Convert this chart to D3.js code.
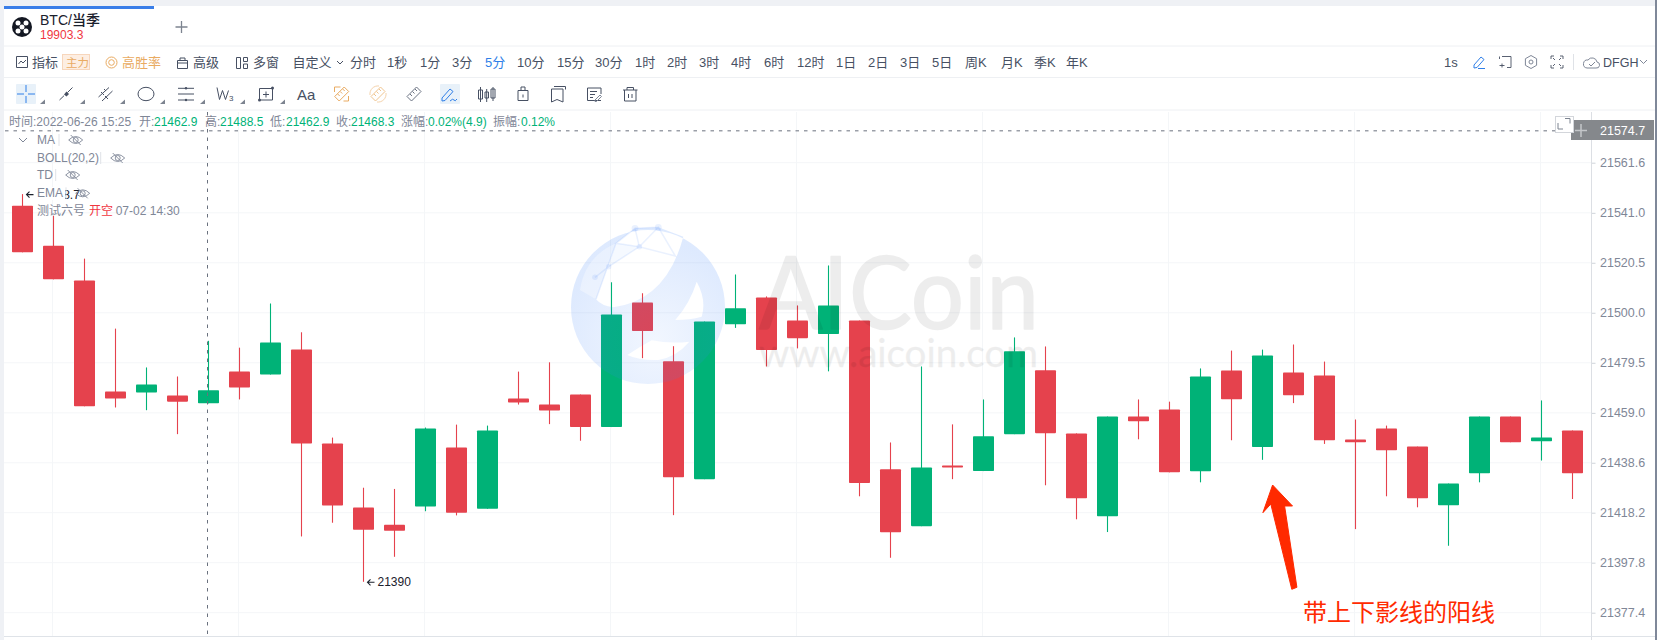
<!DOCTYPE html>
<html><head><meta charset="utf-8">
<script src="https://cdn.jsdelivr.net/npm/d3@7/dist/d3.min.js"></script>
<style>
html,body{margin:0;padding:0;background:#fff;overflow:hidden}
svg{display:block}
text{font-family:"Liberation Sans","Noto Sans CJK SC",sans-serif}
</style></head><body>
<div id="chart"></div>
<script>
const opens  = [21543.9,21527.5,21513.2,21467.7,21467.3,21466.1,21462.9,21475.9,21474.7,21484.9,21446.5,21420.3,21413.3,21420.7,21444.8,21419.8,21464.9,21462.4,21466.5,21453.2,21504.2,21480.1,21431.9,21495.3,21506.3,21496.8,21491.3,21496.8,21435.9,21412.7,21437.5,21435.2,21450.3,21476.4,21450.6,21416.7,21457.5,21460.4,21435.1,21476.3,21445.0,21475.5,21474.3,21448.1,21452.6,21445.2,21421.2,21434.3,21457.5,21447.4,21451.8];
const highs  = [21548.7,21539.8,21522.2,21493.5,21477.6,21473.9,21488.5,21485.7,21503.8,21492.0,21448.9,21428.4,21427.9,21453.0,21454.2,21453.8,21475.9,21479.7,21466.5,21512.5,21508.0,21486.3,21496.4,21515.7,21506.7,21503.0,21519.4,21496.8,21446.9,21478.0,21454.3,21464.5,21489.9,21486.2,21450.6,21457.5,21464.5,21463.6,21477.2,21484.5,21484.9,21487.0,21480.0,21456.3,21453.8,21445.2,21430.1,21457.5,21457.5,21464.1,21451.8];
const lows   = [21524.8,21513.7,21461.7,21461.2,21460.1,21450.3,21462.9,21464.5,21474.7,21408.5,21414.1,21390.0,21400.2,21418.8,21417.1,21419.8,21462.4,21454.4,21447.6,21453.2,21481.4,21417.2,21431.9,21493.8,21478.0,21485.4,21476.0,21424.9,21399.8,21412.7,21431.9,21435.2,21450.3,21429.4,21415.5,21410.3,21448.2,21434.7,21430.6,21447.8,21439.8,21463.0,21446.3,21411.5,21424.9,21420.4,21404.7,21430.6,21447.0,21439.5,21423.8];
const closes = [21524.8,21513.7,21461.7,21464.9,21470.6,21463.6,21468.3,21469.4,21487.8,21446.5,21421.1,21411.2,21410.8,21452.6,21418.2,21451.8,21463.2,21460.0,21453.2,21499.3,21492.5,21432.7,21496.4,21501.8,21484.7,21489.6,21503.0,21430.3,21410.2,21436.7,21436.7,21449.4,21484.2,21450.7,21424.1,21457.5,21455.6,21434.7,21473.9,21464.6,21482.5,21466.2,21447.8,21447.0,21443.7,21424.1,21430.1,21457.5,21447.0,21448.9,21434.3];
const yTicks = [21561.6,21541.0,21520.5,21500.0,21479.5,21459.0,21438.6,21418.2,21397.8,21377.4];
const gridEvery = [1,7,13,19,25,31,37,43,49];
const crossPrice = 21574.7, crossIndex = 6;
const intervalLabels = ["分时","1秒","1分","3分","5分","10分","15分","30分","1时","2时","3时","4时","6时","12时","1日","2日","3日","5日","周K","月K","季K","年K"];
const intervalX = [350,387,420,452,485,517,557,595,635,667,699,731,764,797,836,868,900,932,965,1001,1034,1066];
const activeInterval = "5分";
const legendRows = ["MA","BOLL(20,2)","TD","EMA"];

const W=1657,H=640,RED="#e5424d",GREEN="#00b277",INK="#475063",GREY="#7f8797",BLUE="#2f7fe8",ORANGE="#e9ab62";
const svg=d3.select("#chart").append("svg").attr("width",W).attr("height",H);
const x=d3.scaleLinear().domain([0,50]).range([22.5,1572.5]);
const y=d3.scaleLog().domain([21377.4,21561.6]).range([612.7,162.7]);
const T=(g,px,py,s,o={})=>g.append("text").attr("x",px).attr("y",py).attr("dominant-baseline","central")
  .attr("font-size",o.size||12.5).attr("fill",o.fill||INK).attr("font-weight",o.weight||400).text(s);

// page frame
svg.append("rect").attr("width",W).attr("height",H).attr("fill","#eff1f5");
svg.append("rect").attr("x",4).attr("y",6).attr("width",W-6).attr("height",H-6).attr("fill","#fff");
svg.append("rect").attr("x",W-2).attr("y",0).attr("width",2).attr("height",H).attr("fill","#7f8899");
svg.append("rect").attr("x",4).attr("y",6).attr("width",150).attr("height",3).attr("fill","#3a7ee8");
[46,77.5,110].forEach(v=>svg.append("line").attr("x1",4).attr("x2",W-2).attr("y1",v).attr("y2",v).attr("stroke","#eef0f3"));

// grid
const grid=svg.append("g").attr("stroke","#f4f6f8").attr("stroke-width",1);
grid.selectAll("line.v").data(gridEvery).join("line").attr("x1",d=>x(d)-1).attr("x2",d=>x(d)-1).attr("y1",112).attr("y2",636);
grid.selectAll("line.h").data(yTicks).join("line").attr("x1",4).attr("x2",1591).attr("y1",d=>y(d)).attr("y2",d=>y(d));

// candles
const idx=d3.range(opens.length);
const col=i=>closes[i]>=opens[i]?GREEN:RED;
const bw=21;
svg.append("g").selectAll("line").data(idx).join("line")
  .attr("x1",i=>x(i)).attr("x2",i=>x(i)).attr("y1",i=>y(highs[i])).attr("y2",i=>y(lows[i]))
  .attr("stroke",col).attr("stroke-width",1.1);
svg.append("g").selectAll("rect").data(idx).join("rect")
  .attr("x",i=>x(i)-bw/2).attr("width",bw)
  .attr("y",i=>y(Math.max(opens[i],closes[i])))
  .attr("height",i=>Math.max(2,Math.abs(y(opens[i])-y(closes[i]))))
  .attr("rx",.8).attr("fill",col);

// watermark (over the candles, translucent)
const wm=svg.append("g").attr("pointer-events","none");
const defs=svg.append("defs");
const rg=defs.append("radialGradient").attr("id","glb").attr("cx","55%").attr("cy","72%").attr("r","62%");
rg.append("stop").attr("offset","0%").attr("stop-color","#3c82fa").attr("stop-opacity",.07);
rg.append("stop").attr("offset","100%").attr("stop-color","#3c82fa").attr("stop-opacity",.17);
const P=(zx,zy)=>[530+zx/3,200+zy/3].map(v=>v.toFixed(1)).join(",");
const cx=648,cy=307,r=77;
const globe=`M${cx-r},${cy}a${r},${r} 0 1,0 ${2*r},0a${r},${r} 0 1,0 ${-2*r},0Z`
 +`M${P(198,298)}L${P(258,130)}L${P(315,85)}L${P(385,82)}L${P(460,110)}Q${P(410,300)} ${P(250,322)}Q${P(215,318)} ${P(198,298)}Z`
 +`M${P(500,245)}Q${P(480,310)} ${P(436,360)}Q${P(480,360)} ${P(515,350)}Q${P(530,300)} ${P(500,245)}Z`
 +`M${P(292,465)}Q${P(330,440)} ${P(365,421)}Q${P(420,432)} ${P(478,425)}Q${P(440,470)} ${P(385,480)}Q${P(330,482)} ${P(292,465)}Z`;
wm.append("path").attr("d",globe).attr("fill-rule","evenodd").attr("fill","url(#glb)");
wm.append("path").attr("d",`M${P(150,270)}Q${P(165,170)} ${P(258,130)}L${P(198,298)}Z`).attr("fill","#fff").attr("fill-opacity",.35);
wm.append("path").attr("d",`M${P(258,130)}L${P(328,140)}L${P(236,200)}Z`).attr("fill","#3c82fa").attr("fill-opacity",.05);
wm.append("path").attr("d",`M${P(195,232)}L${P(236,200)}L${P(328,140)}L${P(436,168)}L${P(385,82)}L${P(328,140)}L${P(315,85)}L${P(258,130)}L${P(328,140)}M${P(258,130)}L${P(198,298)}M${P(385,82)}L${P(315,85)}`)
  .attr("fill","none").attr("stroke","#3c82fa").attr("stroke-opacity",.11).attr("stroke-width",1.5);
[[195,232,5],[236,200,5],[328,140,5],[315,85,6],[385,82,6]].forEach(d=>wm.append("circle").attr("cx",530+d[0]/3).attr("cy",200+d[1]/3).attr("r",d[2]/1.8).attr("fill","#3c82fa").attr("fill-opacity",.11));
const wmText=wm.append("g").attr("opacity",.065).attr("fill","#000").attr("stroke","#000").attr("stroke-linejoin","round");
wmText.append("text").attr("x",759).attr("y",329).attr("font-size",100).attr("textLength",280).attr("lengthAdjust","spacingAndGlyphs")
  .attr("stroke-width",1.5).style("font-family","Lato").text("AICoin");
wmText.append("text").attr("x",759).attr("y",367).attr("font-size",38).attr("textLength",279).attr("lengthAdjust","spacingAndGlyphs")
  .attr("stroke-width",.3).style("font-family","Lato").text("www.aicoin.com");

// crosshair
const cross=svg.append("g").attr("fill","none").attr("stroke","#6a717e").attr("stroke-dasharray","3.5 5");
cross.append("line").attr("x1",x(crossIndex)-1).attr("x2",x(crossIndex)-1).attr("y1",112).attr("y2",636);
cross.append("line").attr("x1",5).attr("x2",1572).attr("y1",y(crossPrice)).attr("y2",y(crossPrice));

// axis
const ax=svg.append("g").attr("transform","translate(1591.5,0)")
  .call(d3.axisRight(y).tickValues(yTicks).tickFormat(d3.format(".1f")).tickSize(4).tickPadding(4));
ax.select(".domain").remove();
ax.selectAll("line").attr("stroke","#cfd4da");
ax.selectAll("text").attr("fill","#7f8797").attr("font-size",12.5).attr("dy",".33em").attr("dx","0.5");
svg.append("line").attr("x1",1591.5).attr("x2",1591.5).attr("y1",112).attr("y2",640).attr("stroke","#dcdfe4");
svg.append("line").attr("x1",4).attr("x2",1655).attr("y1",636.5).attr("y2",636.5).attr("stroke","#dfe3e8");

// crosshair price tag
svg.append("rect").attr("x",1571).attr("y",120).attr("width",83).attr("height",20).attr("fill","#85888c");
T(svg,1600,y(crossPrice),d3.format(".1f")(crossPrice),{fill:"#fff",size:12.5});
svg.append("path").attr("d","M1575,130.5h12M1581,124v13").attr("stroke","#c4c6c9").attr("stroke-width",1.5);
svg.append("rect").attr("x",1555.5).attr("y",116.5).attr("width",18).attr("height",16).attr("fill","#fff").attr("stroke","#d3d6db");
svg.append("path").attr("d","M1565,118.5h5v5M1558,123v6h5").attr("fill","none").attr("stroke","#7d8490");

// top tab
const logo=svg.append("g").attr("transform","translate(22,27)");
logo.append("circle").attr("r",10).attr("fill","#131722");
[[-4,-4],[4,-4],[0,0],[-4,4],[4,4]].forEach(d=>logo.append("circle").attr("cx",d[0]).attr("cy",d[1]).attr("r",2.5).attr("fill","#fff"));
T(svg,40,20,"BTC/当季",{size:14,fill:"#1a202c",weight:500});
T(svg,40,35,"19903.3",{size:12,fill:"#f0363f"});
svg.append("path").attr("d","M181.5,21v12M175.5,27h12").attr("stroke","#7d8490").attr("stroke-width",1.3);

// toolbar row 1
const I=(px,py,d,c=INK,sw=1)=>svg.append("path").attr("transform",`translate(${px},${py})`).attr("d",d).attr("fill","none").attr("stroke",c).attr("stroke-width",sw);
const ry=62.5;
I(16,56,"M.5,.5h11v11h-11zM2.5,8l2.5,-3l2,2l3,-3");
T(svg,32,ry,"指标",{size:13});
svg.append("rect").attr("x",62.5).attr("y",54.5).attr("width",27).attr("height",15).attr("fill","#fdeee2").attr("stroke","#f7d6bc");
T(svg,66,ry,"主力",{size:11.5,fill:ORANGE});
I(111.5,62.5,"M-5.5,0a5.5,5.5 0 1,0 11,0a5.5,5.5 0 1,0 -11,0M-2.8,0a2.8,2.8 0 1,0 5.6,0a2.8,2.8 0 1,0 -5.6,0",ORANGE);
T(svg,122,ry,"高胜率",{size:13,fill:ORANGE});
I(177,57,"M.5,3.5h10v8h-10zM.5,6h10M3,3.5v-2.5h5v2.5");
T(svg,193,ry,"高级",{size:13});
I(236,57,"M.5,.5h4v11h-4zM7.5,.5h4v4h-4zM7.5,7h4v4.5h-4z");
T(svg,253,ry,"多窗",{size:13});
T(svg,292.5,ry,"自定义",{size:13});
I(337,61,"M0,0l3,3l3,-3");
intervalLabels.forEach((s,i)=>T(svg,intervalX[i],ry,s,{size:13,fill:s===activeInterval?BLUE:INK}));
T(svg,1444,ry,"1s",{size:13});
I(1473,56,"M1,9l7,-8l3,2.5l-7,8l-3,.5zM5,12.5h7",BLUE);
I(1499,56,"M3,.5h9v11h-4M.5,3V.5M.5,9.5h5M3,7.5v4",INK,.9);
I(1531,62,"M0,-6.5l5.6,3.2v6.6l-5.6,3.2l-5.6,-3.2v-6.6zM-2,0a2,2 0 1,0 4,0a2,2 0 1,0 -4,0",GREY);
I(1551,56,"M0,3V0h3M9,0h3v3M0,9v3h3M9,12h3v-3M2,2l2,2M10,2l-2,2M2,10l2,-2M10,10l-2,-2",INK,.9);
svg.append("line").attr("x1",1573.5).attr("x2",1573.5).attr("y1",54).attr("y2",70).attr("stroke","#dfe2e7");
I(1583,56,"M4,12h9a3,3 0 0,0 1,-6a5,5 0 0,0 -9,-2a4,4 0 0,0 -1,8zM6,8l2,2l4,-4",GREY);
T(svg,1603,ry,"DFGH",{size:12.5});
I(1640,60,"M0,0l3.5,3.5l3.5,-3.5",GREY);

// toolbar row 2
svg.append("rect").attr("x",16).attr("y",84).attr("width",20).attr("height",20).attr("rx",1).attr("fill","#e8f1f9");
svg.append("path").attr("d","M26,85v7M26,96v7M17,94h7M28,94h7").attr("stroke",BLUE).attr("stroke-width",1);
I(59,87,"M.5,13L5,8.7M8.5,5.5L13.5,.5");
svg.append("path").attr("d","M64,94.5l2.5,-3l2.5,2.5l-2.5,2.5z").attr("fill",INK);
I(98,87,"M.5,10L11,.5M4,14L14.5,4");
svg.append("path").attr("d","M101,92l3,3M105,96l3,3M104,89l2,2").attr("stroke",INK);
I(138,94,"M0,0a8,6.7 0 1,0 16,0a8,6.7 0 1,0 -16,0");
I(178,88.3,"M0,0h16M0,5.7h16M0,11.7h16");
svg.append("circle").attr("cx",186).attr("cy",88.3).attr("r",1.2).attr("fill",INK);
svg.append("circle").attr("cx",186).attr("cy",100).attr("r",1.2).attr("fill",INK);
I(217,87.5,"M0,0l2.5,12l3,-9l3,9l3,-9");
T(svg,229,98.5,"3",{size:8});
I(259.5,88.5,"M0,0h13v11.5h-13zM6.5,3v6M3.5,6h6");
[[259.5,100],[272.5,88]].forEach(d=>svg.append("circle").attr("cx",d[0]).attr("cy",d[1]).attr("r",1.5).attr("fill",INK));
T(svg,297,94,"Aa",{size:15,fill:INK});
const ruler="M-7,2.5L2.5,-7L7,-2.5L-2.5,7zM-4,0l2,2M-1.5,-2.5l2,2M1,-5l2,2";
I(341.7,94,ruler,ORANGE);
I(334.5,87,"M0,5V0h6M14,14v-0M14,9v5h-5",ORANGE);
I(378,94,ruler,"#f0c48e");
I(378,94,"M-8,1a8,8 0 0,1 9,-9M8,-1a8,8 0 0,1 -9,9","#f5d3ac");
I(414,94,ruler,"#6b7383");
svg.append("rect").attr("x",440).attr("y",84).attr("width",20).attr("height",20).attr("rx",1).attr("fill","#e8f1f9");
I(441,87,"M1,11l8,-9l3,2.5l-8,9l-3,.5zM9,14q3,-3 4,-1t3,-1",BLUE);
I(478,87,"M.5,3h4v9h-4zM2.5,0v15M7,5h3.5v6h-3.5zM8.7,2v13M13,2h4v9h-4zM15,0v14");
I(517.5,86.5,"M.5,4h10v10h-10zM3.5,4V.5h4V4M5.5,8v3");
I(551,86,"M3,.5h11.5v3M.5,3h11.5v13l-6,-2.5l-5.5,2.5z");
I(587,87.5,"M.5,.5h13.5v6M14,13h-13.5v-12.5M3,4h7M3,7h5M3,10h3");
I(595,94,"M0,6l5,-5l1.5,1.5l-5,5h-1.5z",GREY);
I(623,87,"M0,3h14.5M4,3V.5h6.5V3M1.5,3v11h11.5V3M5.5,7v4M9,7v4");
[40,80,120,160,200,240,280].forEach(v=>svg.append("path").attr("d",`M${v+5},99.5v4.5h-5z`).attr("fill","#7d8490"));

// info row
const hy=122,hs=12;
T(svg,9,hy,"时间:2022-06-26 15:25",{size:hs,fill:GREY});
[["开:",139,"21462.9",154],["高:",205,"21488.5",220],["低:",270,"21462.9",286],["收:",336,"21468.3",351],["涨幅:",401,"0.02%(4.9)",428],["振幅:",493,"0.12%",521]]
 .forEach(r=>{T(svg,r[1],hy,r[0],{size:hs,fill:GREY});T(svg,r[3],hy,r[2],{size:hs,fill:"#00b277"});});

// extreme labels
const hiI=d3.maxIndex(highs), loI=d3.minIndex(lows);
const extreme=(i,v,s)=>{const px=x(i),py=y(v);
  svg.append("path").attr("d",`M${px+11},${py+.5}h-7M${px+7},${py-2.5}l-3,3l3,3`).attr("fill","none").attr("stroke","#1a202c").attr("stroke-width",1.1);
  T(svg,px+14,py+.5,s,{size:12,fill:"#1a202c"});};
extreme(hiI,highs[hiI],d3.format(".1f")(highs[hiI]));
extreme(loI,lows[loI],d3.format("d")(lows[loI]));

// legend
I(19,138,"M0,0l4,4l4,-4",GREY);
const eye=(px,py)=>I(px,py,"M-7,0q7,-7 14,0q-7,7 -14,0zM-2.5,0a2.5,2.5 0 1,0 5,0a2.5,2.5 0 1,0 -5,0M-5,-5l10,10",GREY,.9);
const dv=[59,100.7,55.7,66], ey=[75.7,117.7,72.7,82.7], ly=[140,158,175,193.3];
svg.append("rect").attr("x",35).attr("y",187).attr("width",30).attr("height",13).attr("fill","#fff");
legendRows.forEach((s,i)=>{
  T(svg,37,ly[i],s,{size:12,fill:GREY});
  svg.append("line").attr("x1",dv[i]).attr("x2",dv[i]).attr("y1",ly[i]-6).attr("y2",ly[i]+6).attr("stroke","#dfe2e7");
  eye(ey[i],ly[i]);});
T(svg,37,211,"测试六号",{size:12,fill:GREY});
T(svg,89,211,"开空",{size:12,fill:"#f0363f"});
T(svg,115.7,211,"07-02 14:30",{size:12,fill:GREY});

// annotation
svg.append("path").attr("d","M1272.6,485L1292.5,506L1284.6,506L1296.9,587.3L1291.8,589.3L1270.8,504L1262.9,512.7Z")
  .attr("fill","#ff2a00").attr("stroke","#ff2a00").attr("stroke-linejoin","round");
T(svg,1303,612,"带上下影线的阳线",{size:24,fill:"#ff2a00"});
</script></body></html>
